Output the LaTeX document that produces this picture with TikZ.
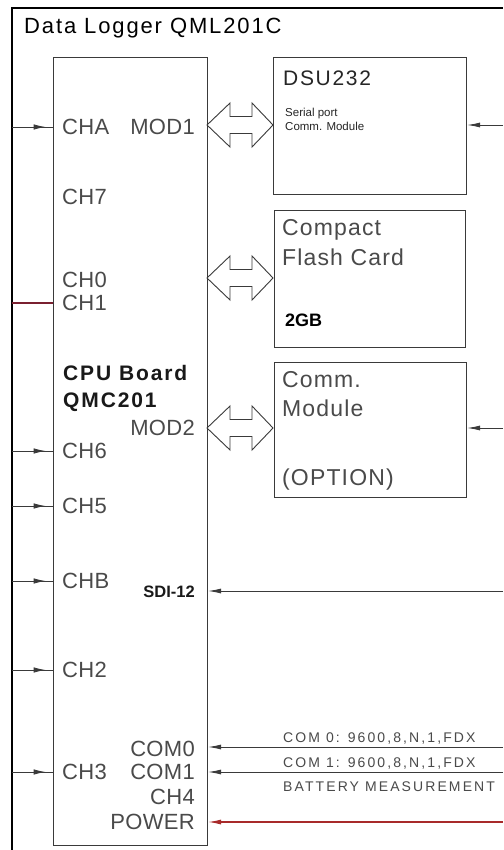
\documentclass[tikz,border=0pt]{standalone}
\usepackage{fontspec}
\setmainfont{Liberation Sans}
\newfontfamily\titlefont[LetterSpace=8.5]{Liberation Sans}
\newfontfamily\cadfont[LetterSpace=1.5]{Liberation Sans}
\newfontfamily\boxfont[LetterSpace=5]{Liberation Sans}
\newfontfamily\dsufont[LetterSpace=8]{Liberation Sans}
\newfontfamily\smallcad[LetterSpace=15]{Liberation Sans}
\newfontfamily\boldsp[LetterSpace=9]{Liberation Sans}
\usetikzlibrary{arrows.meta,decorations.markings}
\definecolor{ink}{HTML}{3A3A3A}
\definecolor{cadgray}{HTML}{4A4A4A}
\definecolor{wine}{HTML}{7A2030}
\definecolor{pwr}{HTML}{A82A2A}
\tikzset{
  box/.style={draw=ink, line width=1.1pt, anchor=north west, inner sep=0pt, fill=white},
  lbl/.style={inner sep=0pt, text=cadgray, font=\cadfont\fontsize{22}{24}\selectfont},
  boxlbl/.style={inner sep=0pt, anchor=west, text=cadgray, font=\boxfont\fontsize{23}{26}\selectfont},
  desc/.style={inner sep=0pt, anchor=west, text=cadgray, font=\smallcad\fontsize{14}{16}\selectfont},
  wire/.style={draw=ink, line width=0.9pt},
  inarrow/.style={wire, postaction={decorate}, decoration={markings, mark=at position 0.82 with {\arrow{Latex[length=12pt,width=5.5pt]}}}},
  endarrow/.style={wire, -{Latex[length=13pt,width=5pt]}},
  dblarrow/.style={draw=ink, line width=0.9pt, fill=white, line join=miter}
}
\begin{document}
\begin{tikzpicture}[x=1pt,y=-1pt]
\fill[white] (0,0) rectangle (503,850);
\useasboundingbox (0,0) rectangle (503,850);
% frame
\coordinate (fb) at (12,850);
\coordinate (fc) at (12,8);
\coordinate (fr) at (503,8);
\draw[line width=2pt, black] (fb) -- (fc) -- (fr);
\node[inner sep=0pt, anchor=west, text=black, font=\titlefont\fontsize{22}{24}\selectfont] (title) at (24,28) {Data Logger QML201C};
% boxes
\node[box, minimum width=154pt, minimum height=788pt] (cpu) at (53,57) {};
\node[box, minimum width=193pt, minimum height=137pt] (dsu) at (273,57) {};
\node[box, minimum width=191pt, minimum height=137pt] (cf) at (274,210) {};
\node[box, minimum width=192pt, minimum height=135pt] (comm) at (274,362) {};
% double arrows
\foreach \yy in {125,278,428}{
  \draw[dblarrow] (207,\yy) -- (230,\yy-22) -- (230,\yy-8.5) -- (252,\yy-8.5) -- (252,\yy-22) -- (273,\yy)
    -- (252,\yy+22) -- (252,\yy+8.5) -- (230,\yy+8.5) -- (230,\yy+22) -- cycle;
}
% CPU board labels
\node[lbl, anchor=west] (cha) at (62,127) {CHA};
\node[lbl, anchor=east] (mod1) at (195,127) {MOD1};
\node[lbl, anchor=west] (ch7) at (62,197) {CH7};
\node[lbl, anchor=west] (ch0) at (62,280) {CH0};
\node[lbl, anchor=west] (ch1) at (62,303) {CH1};
\node[inner sep=0pt, anchor=west, text=black!90, font=\boldsp\bfseries\fontsize{21}{24}\selectfont] (cpub) at (63,373) {CPU Board};
\node[inner sep=0pt, anchor=west, text=black!90, font=\boldsp\bfseries\fontsize{21}{24}\selectfont] (qmc) at (63,402) {QMC201};
\node[lbl, anchor=east] (mod2) at (195,428) {MOD2};
\node[lbl, anchor=west] (ch6) at (62,451) {CH6};
\node[lbl, anchor=west] (ch5) at (62,506) {CH5};
\node[lbl, anchor=west] (chb) at (62,581) {CHB};
\node[inner sep=0pt, anchor=east, text=black!90, font=\bfseries\fontsize{16.5}{18}\selectfont] (sdi) at (195,592) {SDI-12};
\node[lbl, anchor=west] (ch2) at (62,670) {CH2};
\node[lbl, anchor=east] (com0) at (195,749) {COM0};
\node[lbl, anchor=west] (ch3) at (62,772) {CH3};
\node[lbl, anchor=east] (com1) at (195,772) {COM1};
\node[lbl, anchor=east] (ch4) at (195,797) {CH4};
\node[lbl, anchor=east] (power) at (195,822) {POWER};
% DSU232 box text
\node[inner sep=0pt, anchor=west, text=black!85, font=\dsufont\fontsize{21}{24}\selectfont] (dsut) at (283,78) {DSU232};
\node[inner sep=0pt, anchor=west, text=black!85, font=\fontsize{11.5}{13}\selectfont] (ser) at (285,114) {Serial port};
\node[inner sep=0pt, anchor=west, text=black!85, font=\fontsize{11.5}{13}\selectfont] (cmm) at (285,126) {Comm. Module};
% CF box
\node[boxlbl] (cft1) at (282,230) {Compact};
\node[boxlbl] (cft2) at (282,257) {Flash Card};
\node[inner sep=0pt, anchor=west, text=black, font=\bfseries\fontsize{18}{20}\selectfont] (gb) at (285,320) {2GB};
% Comm module box
\node[boxlbl] (cmt1) at (282,380) {Comm.};
\node[boxlbl] (cmt2) at (282,408) {Module};
\node[boxlbl] (opt) at (282,480) {(OPTION)};
% right descriptions
\node[desc] (d0) at (283,738) {COM 0: 9600,8,N,1,FDX};
\node[desc] (d1) at (283,763) {COM 1: 9600,8,N,1,FDX};
\node[desc] (d2) at (283,787) {BATTERY MEASUREMENT};
% left inputs
\coordinate (iA) at (12,127);
\coordinate (i1) at (12,303);
\coordinate (i6) at (12,451);
\coordinate (i5) at (12,506);
\coordinate (iB) at (12,581);
\coordinate (i2) at (12,670);
\coordinate (i3) at (12,772);
\draw[inarrow] (iA) -- (iA -| cpu.west);
\draw[inarrow] (i6) -- (i6 -| cpu.west);
\draw[inarrow] (i5) -- (i5 -| cpu.west);
\draw[inarrow] (iB) -- (iB -| cpu.west);
\draw[inarrow] (i2) -- (i2 -| cpu.west);
\draw[inarrow] (i3) -- (i3 -| cpu.west);
\draw[draw=wine, line width=1.8pt] (i1) -- (i1 -| cpu.west);
% right inputs
\coordinate (rD) at (503,125);
\coordinate (rC) at (503,428);
\coordinate (rS) at (503,591);
\coordinate (r0) at (503,747);
\coordinate (r1) at (503,772);
\coordinate (rP) at (503,822);
\draw[endarrow] (rD) -- (rD -| dsu.east);
\draw[endarrow] (rC) -- (rC -| comm.east);
\draw[endarrow] (rS) -- (rS -| cpu.east);
\draw[endarrow] (r0) -- (r0 -| cpu.east);
\draw[endarrow] (r1) -- (r1 -| cpu.east);
\draw[endarrow, draw=pwr, line width=1.2pt] (rP) -- (rP -| cpu.east);
\end{tikzpicture}
\end{document}
